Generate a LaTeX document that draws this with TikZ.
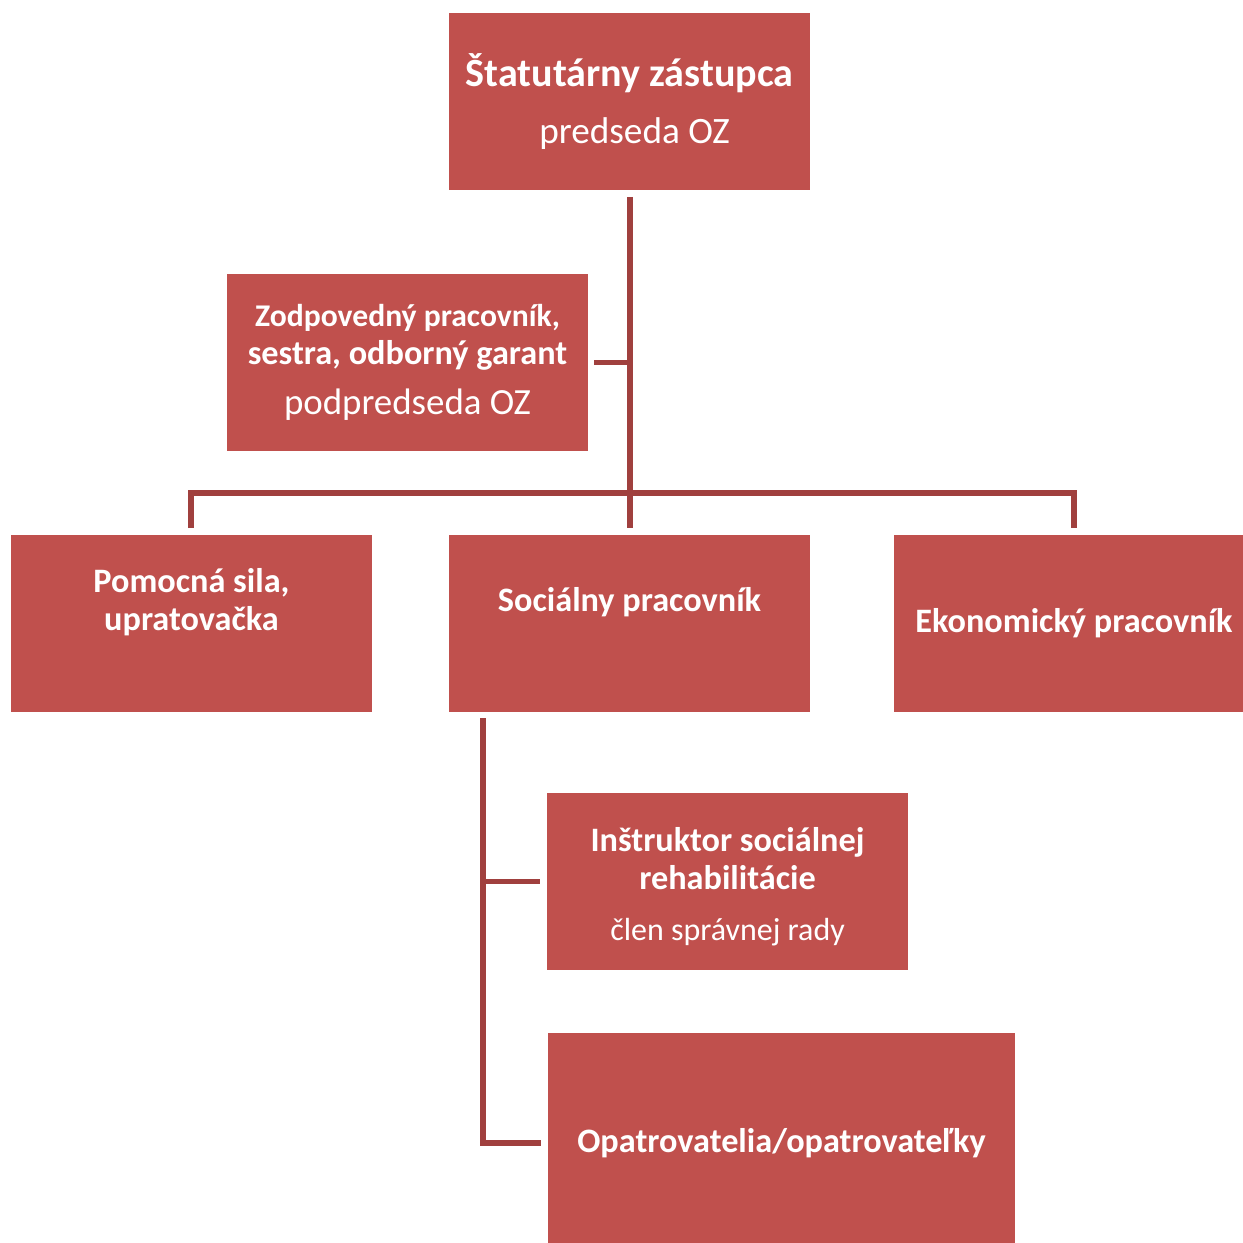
\documentclass[tikz,border=0pt]{standalone}
\usepackage{fontspec}
\setmainfont{Carlito}
\usepackage{tikz}
\usetikzlibrary{positioning}
\definecolor{boxred}{HTML}{C0504D}
\definecolor{linered}{HTML}{A0403E}
\begin{document}
\begin{tikzpicture}[
    x=0.02cm, y=-0.02cm,
    every node/.style={rectangle, fill=boxred, text=white, inner sep=0pt, align=center,
        minimum width=7.22cm, minimum height=3.54cm,
        font=\bfseries\fontsize{19.5}{21.5}\selectfont},
    conn/.style={draw=linered, line width=3.1pt, line cap=butt},
    gap/.style={shorten <=0.13cm, shorten >=0.13cm}
]
\useasboundingbox (0,0) rectangle (1242,1243);
\node (stat) at (629.5,101.5) {\fontsize{22.8}{26}\selectfont Štatutárny zástupca\\[10.5pt]
    \mdseries\fontsize{21.2}{25}\selectfont\hspace*{0.2cm}predseda OZ};
\node (zodp) at (407.5,362.5) {\fontsize{18}{19.3}\selectfont Zodpovedný pracovník,\\sestra, odborný garant\\[7pt]
    \mdseries\fontsize{21}{25}\selectfont podpredseda OZ};
\node (pomoc) at (191.5,623.5) {Pomocná sila,\\upratovačka\\[6pt]\mbox{}};
\node (social) at (629.5,623.5) {Sociálny pracovník\\[6pt]\mbox{}};
\node (ekon) at (1074,623.5) {Ekonomický pracovník};
\node (instr) at (727.5,881.5) {\rule{0pt}{19.5pt}Inštruktor sociálnej\\rehabilitácie\\[7.5pt]
    \mdseries\fontsize{18.2}{21}\selectfont člen správnej rady};
\node[minimum width=9.34cm, minimum height=4.4cm] (opatr) at (781.5,1143) {Opatrovatelia/opatrovateľky};
\coordinate (bar) at (630,493);
\coordinate (spine) at (483,712);
\draw[conn, gap] (stat.south -| bar) -- (social.north -| bar);
\draw[conn, shorten <=0.12cm] (zodp.east) -- (zodp.east -| bar);
\draw[conn, gap] (pomoc.north -| 191,0) |- (bar) -| (ekon.north);
\draw[conn, shorten <=0.12cm, shorten >=0.13cm] (spine) |- (opatr.west);
\draw[conn, shorten >=0.13cm] (spine |- instr.west) -- (instr.west);
\end{tikzpicture}
\end{document}
